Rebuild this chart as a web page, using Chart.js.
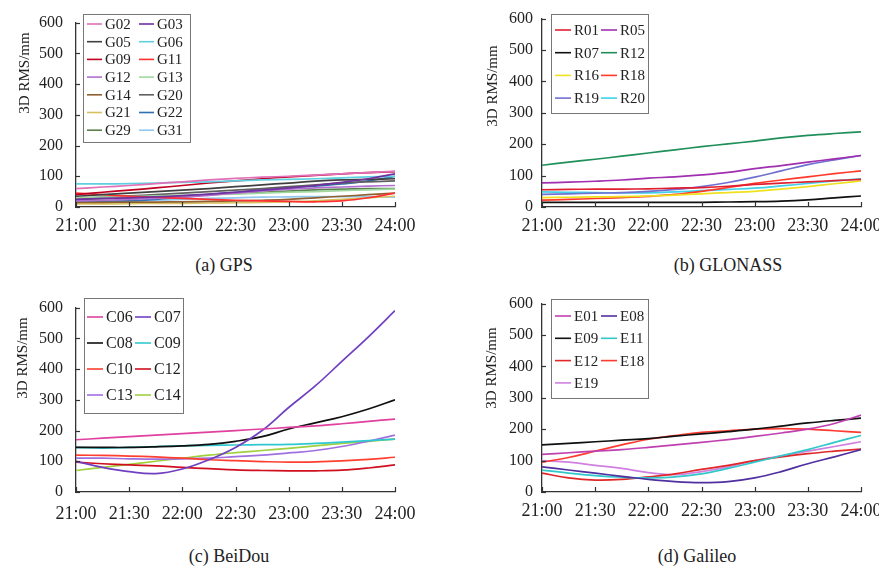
<!DOCTYPE html>
<html lang="en">
<head>
    <meta charset="UTF-8">
    <title>3D RMS per satellite</title>
    <script src="https://cdn.jsdelivr.net/npm/chart.js"></script>
    <style>
        html, body {
            margin: 0;
            padding: 0;
            background: #fff;
        }
        #page {
            position: relative;
            width: 879px;
            height: 567px;
            overflow: hidden;
            background: #fff;
        }
        .panel {
            position: absolute;
        }
        .caption {
            position: absolute;
            font-family: "Liberation Serif", "Times New Roman", serif;
            font-size: 18px;
            color: #222;
            transform: translate(-50%, -50%);
            white-space: nowrap;
        }
    </style>
</head>
<body>
<div id="page">
    <div class="panel" id="pa"><canvas id="cA"></canvas></div>
    <div class="panel" id="pb"><canvas id="cB"></canvas></div>
    <div class="panel" id="pc"><canvas id="cC"></canvas></div>
    <div class="panel" id="pd"><canvas id="cD"></canvas></div>
    <div class="caption" style="left:224px; top:265px;">(a) GPS</div>
    <div class="caption" style="left:728px; top:265px;">(b) GLONASS</div>
    <div class="caption" style="left:229px; top:556px;">(c) BeiDou</div>
    <div class="caption" style="left:697px; top:556px;">(d) Galileo</div>
</div>

<script>
    // minutes after 21:00, one sample every 15 min
    const times = [0, 15, 30, 45, 60, 75, 90, 105, 120, 135, 150, 165, 180];
    const tickLabels = ["21:00", "21:30", "22:00", "22:30", "23:00", "23:30", "24:00"];
    const yTicks = [0, 100, 200, 300, 400, 500, 600];

    // GPS (mm)
    const G02 = [60, 65, 70, 76, 82, 88, 93, 97, 100, 104, 108, 112, 116];
    const G03 = [25, 28, 30, 33, 37, 42, 48, 55, 62, 70, 80, 92, 108];
    const G05 = [35, 40, 45, 50, 55, 60, 66, 72, 78, 84, 88, 90, 92];
    const G06 = [75, 75, 76, 78, 80, 82, 85, 88, 90, 92, 95, 98, 100];
    const G09 = [40, 48, 55, 62, 70, 78, 85, 92, 98, 103, 108, 112, 115];
    const G11 = [45, 40, 35, 32, 28, 25, 22, 20, 18, 17, 20, 30, 45];
    const G12 = [20, 22, 25, 28, 32, 38, 45, 52, 58, 62, 65, 68, 70];
    const G13 = [30, 32, 34, 36, 38, 40, 42, 45, 48, 50, 53, 56, 58];
    const G14 = [15, 15, 16, 16, 17, 18, 20, 22, 25, 30, 35, 40, 45];
    const G20 = [28, 32, 36, 40, 45, 50, 55, 60, 66, 72, 78, 82, 85];
    const G21 = [10, 10, 11, 12, 12, 13, 14, 15, 17, 20, 25, 30, 35];
    const G22 = [18, 18, 20, 25, 32, 40, 48, 55, 62, 68, 75, 85, 100];
    const G29 = [25, 27, 30, 33, 36, 40, 44, 48, 52, 56, 58, 60, 60];
    const G31 = [15, 18, 20, 22, 25, 28, 30, 32, 33, 34, 34, 33, 32];

    // GLONASS (mm)
    const R01 = [55, 56, 57, 57, 58, 60, 62, 66, 72, 76, 80, 84, 88];
    const R05 = [77, 79, 82, 86, 92, 96, 102, 110, 122, 132, 143, 153, 164];
    const R07 = [15, 15, 15, 15, 15, 15, 15, 16, 17, 19, 23, 29, 35];
    const R12 = [133, 143, 152, 162, 172, 182, 192, 201, 210, 220, 228, 234, 239];
    const R16 = [30, 31, 32, 33, 35, 38, 42, 46, 50, 57, 65, 74, 83];
    const R18 = [22, 24, 27, 30, 34, 40, 50, 62, 75, 86, 96, 106, 115];
    const R19 = [40, 42, 44, 46, 50, 56, 65, 78, 95, 115, 135, 150, 164];
    const R20 = [48, 47, 46, 45, 45, 48, 52, 56, 60, 67, 75, 83, 90];

    // BeiDou (mm)
    const C06 = [170, 175, 180, 185, 190, 195, 200, 205, 210, 215, 222, 230, 237];
    const C07 = [100, 80, 66, 60, 75, 105, 145, 200, 275, 345, 425, 505, 590];
    const C08 = [145, 145, 145, 147, 150, 155, 165, 180, 205, 225, 245, 270, 300];
    const C09 = [145, 143, 145, 148, 150, 152, 153, 154, 155, 158, 162, 167, 172];
    const C10 = [120, 119, 117, 114, 110, 105, 102, 99, 97, 98, 101, 106, 113];
    const C12 = [97, 92, 88, 85, 80, 76, 72, 70, 69, 69, 71, 78, 88];
    const C13 = [110, 110, 108, 107, 108, 110, 115, 120, 127, 135, 148, 165, 185];
    const C14 = [70, 80, 90, 100, 110, 120, 128, 135, 142, 150, 158, 165, 172];

    // Galileo (mm)
    const E01 = [120, 125, 130, 135, 142, 150, 158, 167, 177, 188, 200, 218, 245];
    const E08 = [80, 70, 60, 50, 40, 33, 30, 33, 45, 65, 90, 112, 135];
    const E09 = [150, 155, 160, 165, 170, 178, 185, 192, 200, 210, 220, 228, 235];
    const E11 = [70, 60, 52, 47, 45, 48, 58, 75, 95, 115, 135, 158, 180];
    const E12 = [60, 45, 38, 40, 48, 58, 72, 85, 100, 112, 122, 130, 137];
    const E18 = [95, 110, 130, 150, 168, 180, 190, 195, 200, 202, 200, 195, 190];
    const E19 = [100, 95, 85, 75, 62, 55, 65, 80, 100, 115, 130, 145, 160];

    const gpsNames = ["G02", "G03", "G05", "G06", "G09", "G11", "G12", "G13", "G14", "G20", "G21", "G22", "G29", "G31"];
    const gpsValues = [G02, G03, G05, G06, G09, G11, G12, G13, G14, G20, G21, G22, G29, G31];
    const gpsColors = ["#e070b8", "#7030a0", "#404040", "#60d0e0", "#c00020", "#ff3030", "#b070d0",
        "#a0d8a0", "#906030", "#606060", "#d8c060", "#3070b0", "#5a8050", "#90c8f0"];

    const gloNames = ["R01", "R05", "R07", "R12", "R16", "R18", "R19", "R20"];
    const gloValues = [R01, R05, R07, R12, R16, R18, R19, R20];
    const gloColors = ["#e02030", "#a030b0", "#101010", "#20905a", "#f0e020", "#ff3a2a", "#7070d0", "#40d0e8"];

    const bdsNames = ["C06", "C07", "C08", "C09", "C10", "C12", "C13", "C14"];
    const bdsValues = [C06, C07, C08, C09, C10, C12, C13, C14];
    const bdsColors = ["#e040a0", "#7040c0", "#101010", "#30c8d0", "#ff4030", "#d01020", "#a070e0", "#a0d040"];

    const galNames = ["E01", "E08", "E09", "E11", "E12", "E18", "E19"];
    const galValues = [E01, E08, E09, E11, E12, E18, E19];
    const galColors = ["#c040b0", "#5030a0", "#101010", "#30c8c8", "#e02828", "#ff3a30", "#d080e0"];

    const FONT = "'Liberation Serif', 'Times New Roman', serif";

    // draws the y title, the inward ticks and the boxed two-column legend
    const decor = {
        id: "decor",
        afterDraw(chart, args, opts) {
            const ctx = chart.ctx;
            const ox = opts.ox, oy = opts.oy;
            const xs = chart.scales.x, ys = chart.scales.y;
            const area = chart.chartArea;
            ctx.save();
            ctx.strokeStyle = "#333";
            ctx.lineWidth = 1.2;
            ys.ticks.forEach(t => {
                const y = Math.round(ys.getPixelForValue(t.value)) + 0.5;
                ctx.beginPath();
                ctx.moveTo(area.left, y);
                ctx.lineTo(area.left + 4, y);
                ctx.stroke();
            });
            xs.ticks.forEach(t => {
                const x = Math.round(xs.getPixelForValue(t.value)) + 0.5;
                ctx.beginPath();
                ctx.moveTo(x, area.bottom);
                ctx.lineTo(x, area.bottom - 5);
                ctx.stroke();
            });

            // y title
            ctx.fillStyle = "#222";
            ctx.font = "15px " + FONT;
            ctx.textAlign = "center";
            ctx.textBaseline = "middle";
            ctx.translate(opts.titleX - ox, opts.titleY - oy);
            ctx.rotate(-Math.PI / 2);
            ctx.fillText("3D RMS/mm", 0, 0);
            ctx.setTransform(1, 0, 0, 1, 0, 0);

            // legend
            const lg = opts.legend;
            ctx.fillStyle = "#fff";
            ctx.fillRect(lg.x - ox, lg.y - oy, lg.w, lg.h);
            ctx.strokeStyle = "#777";
            ctx.lineWidth = 1;
            ctx.strokeRect(lg.x - ox + 0.5, lg.y - oy + 0.5, lg.w, lg.h);
            ctx.font = lg.font + "px " + FONT;
            ctx.textAlign = "left";
            chart.data.datasets.forEach((ds, i) => {
                const row = Math.floor(i / 2), col = i % 2;
                const lx = (col === 0 ? lg.col1 : lg.col2) - ox;
                const ly = lg.firstRow + row * lg.rowH - oy;
                ctx.strokeStyle = ds.borderColor;
                ctx.lineWidth = 1.6;
                ctx.beginPath();
                ctx.moveTo(lx, ly);
                ctx.lineTo(lx + lg.lineLen, ly);
                ctx.stroke();
                ctx.fillStyle = "#222";
                ctx.fillText(ds.label, lx + lg.lineLen + 3, ly + 1);
            });
            ctx.restore();
        }
    };

    function makePanel(holderId, canvasId, box, area, names, values, colors, extra) {
        const holder = document.getElementById(holderId);
        holder.style.left = box.left + "px";
        holder.style.top = box.top + "px";
        holder.style.width = box.w + "px";
        holder.style.height = box.h + "px";

        const datasets = names.map((n, i) => ({
            label: n,
            data: times.map((t, j) => ({ x: t, y: values[i][j] })),
            borderColor: colors[i],
            borderWidth: 1.7,
            pointRadius: 0,
            tension: 0.4,
            fill: false
        }));

        const yWidth = area.left - box.left;
        const xHeight = box.top + box.h - area.bottom;

        new Chart(document.getElementById(canvasId), {
            type: "line",
            data: { datasets },
            options: {
                responsive: true,
                maintainAspectRatio: false,
                animation: false,
                layout: {
                    padding: {
                        left: 0,
                        top: area.top - box.top,
                        right: box.left + box.w - area.right,
                        bottom: 0
                    }
                },
                scales: {
                    x: {
                        type: "linear",
                        min: 0,
                        max: 180,
                        afterFit: s => { s.height = xHeight; },
                        afterBuildTicks: s => {
                            s.ticks = tickLabels.map((l, i) => ({ value: i * 30 }));
                        },
                        ticks: {
                            callback: v => tickLabels[Math.round(v / 30)],
                            font: { family: FONT, size: 18 },
                            color: "#222",
                            padding: extra.xPad,
                            maxRotation: 0,
                            autoSkip: false
                        },
                        grid: { drawOnChartArea: false, drawTicks: false, color: "rgba(0,0,0,0)" },
                        border: { display: true, color: "#333", width: 1.3 }
                    },
                    y: {
                        min: 0,
                        max: 600,
                        afterFit: s => { s.width = yWidth; },
                        afterBuildTicks: s => {
                            s.ticks = yTicks.map(v => ({ value: v }));
                        },
                        ticks: {
                            font: { family: FONT, size: 16 },
                            color: "#222",
                            padding: extra.yPad
                        },
                        grid: { drawOnChartArea: false, drawTicks: false, color: "rgba(0,0,0,0)" },
                        border: { display: true, color: "#333", width: 1.3 }
                    }
                },
                plugins: {
                    legend: { display: false },
                    tooltip: { enabled: false },
                    decor: {
                        ox: box.left,
                        oy: box.top,
                        titleX: extra.titleX,
                        titleY: extra.titleY,
                        legend: extra.legend
                    }
                }
            },
            plugins: [decor]
        });
    }

    makePanel("pa", "cA", { left: 0, top: 0, w: 430, h: 250 },
        { left: 76, top: 14, right: 395, bottom: 207 },
        gpsNames, gpsValues, gpsColors,
        {
            xPad: 8, yPad: 13, titleX: 25, titleY: 73,
            legend: { x: 83, y: 14, w: 107, h: 128, firstRow: 24, rowH: 17.7, col1: 87, col2: 139, lineLen: 15, font: 15 }
        });

    makePanel("pb", "cB", { left: 440, top: 0, w: 450, h: 250 },
        { left: 542, top: 14, right: 861, bottom: 207 },
        gloNames, gloValues, gloColors,
        {
            xPad: 8, yPad: 9, titleX: 493, titleY: 86,
            legend: { x: 551, y: 14, w: 97, h: 99, firstRow: 30, rowH: 22.7, col1: 555, col2: 601, lineLen: 16, font: 15 }
        });

    makePanel("pc", "cC", { left: 0, top: 285, w: 430, h: 250 },
        { left: 76, top: 298, right: 395, bottom: 492 },
        bdsNames, bdsValues, bdsColors,
        {
            xPad: 11, yPad: 13, titleX: 23, titleY: 358,
            legend: { x: 84, y: 298, w: 99, h: 115, firstRow: 317, rowH: 26, col1: 87, col2: 135, lineLen: 16, font: 16 }
        });

    makePanel("pd", "cD", { left: 440, top: 285, w: 450, h: 250 },
        { left: 542, top: 298, right: 861, bottom: 492 },
        galNames, galValues, galColors,
        {
            xPad: 8, yPad: 9, titleX: 492, titleY: 368,
            legend: { x: 551, y: 299, w: 97, h: 99, firstRow: 316, rowH: 22.3, col1: 555, col2: 601, lineLen: 16, font: 15 }
        });
</script>
</body>
</html>
